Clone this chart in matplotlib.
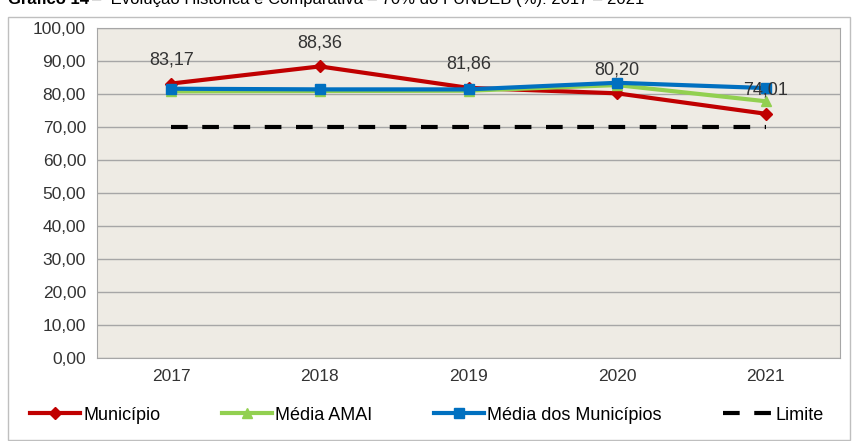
import matplotlib.pyplot as plt
from matplotlib.ticker import FuncFormatter

plt.rcParams["font.family"] = ["Liberation Sans", "DejaVu Sans"]

anos = ["2017", "2018", "2019", "2020", "2021"]
municipio = [83.17, 88.36, 81.86, 80.20, 74.01]
media_amai = [80.8, 80.9, 81.0, 82.7, 77.8]
media_municipios = [81.6, 81.4, 81.4, 83.4, 81.8]
limite = [70, 70, 70, 70, 70]
rotulos = ["83,17", "88,36", "81,86", "80,20", "74,01"]

fig = plt.figure(figsize=(8.54, 4.41), dpi=100)
ax = fig.add_axes([97 / 854, 1 - 358 / 441, 743 / 854, 330 / 441])

# moldura externa cinza
fig.patches.append(plt.Rectangle((8 / 854, 0.002), 842 / 854, 1 - 18 / 441,
                                 transform=fig.transFigure, fill=False,
                                 edgecolor="#BFBFBF", lw=1))

# título (cortado no topo, como no original)
fig.text(8 / 854, 1 - 4 / 441, "Gráfico 14", fontsize=12, fontweight="bold", va="baseline")
fig.text(92 / 854, 1 - 4 / 441,
         "\u2013  Evolução Histórica e Comparativa \u2013 70% do FUNDEB (%): 2017 \u2013 2021",
         fontsize=12, va="baseline")

x = range(len(anos))
ax.set_facecolor("#EEEBE4")
ax.plot(x, limite, color="black", lw=3, dashes=(4, 3.5), label="Limite", zorder=2)
ax.plot(x, municipio, color="#C00000", lw=3, marker="D", ms=6, label="Município", zorder=3)
ax.plot(x, media_amai, color="#92D050", lw=3, marker="^", ms=7, label="Média AMAI", zorder=4)
ax.plot(x, media_municipios, color="#0070C0", lw=3, marker="s", ms=7,
        label="Média dos Municípios", zorder=5)

for i, txt in enumerate(rotulos):
    ax.annotate(txt, (i, municipio[i]), xytext=(0, 17), textcoords="offset points",
                ha="center", va="center", fontsize=13, color="#333333", zorder=6)

ax.set_xlim(-0.5, 4.5)
ax.set_ylim(0, 100)
ax.set_yticks(range(0, 101, 10))
ax.yaxis.set_major_formatter(FuncFormatter(lambda v, p: f"{v:.2f}".replace(".", ",")))
ax.set_xticks(list(x))
ax.set_xticklabels(anos)
ax.tick_params(axis="both", labelsize=12.5, length=0, colors="#333333", pad=8)
ax.grid(axis="y", color="#A6A6A6", lw=1)
ax.set_axisbelow(True)
for s in ax.spines.values():
    s.set_color("#A6A6A6")

handles, labels = ax.get_legend_handles_labels()
order = [1, 2, 3, 0]
fig.legend([handles[i] for i in order], [labels[i] for i in order], loc="center",
           bbox_to_anchor=(427 / 854, 1 - 415 / 441), ncol=4, frameon=False, fontsize=13,
           handlelength=2.8, columnspacing=3.4, handletextpad=0.15)

fig.savefig("out.png", dpi=100)
